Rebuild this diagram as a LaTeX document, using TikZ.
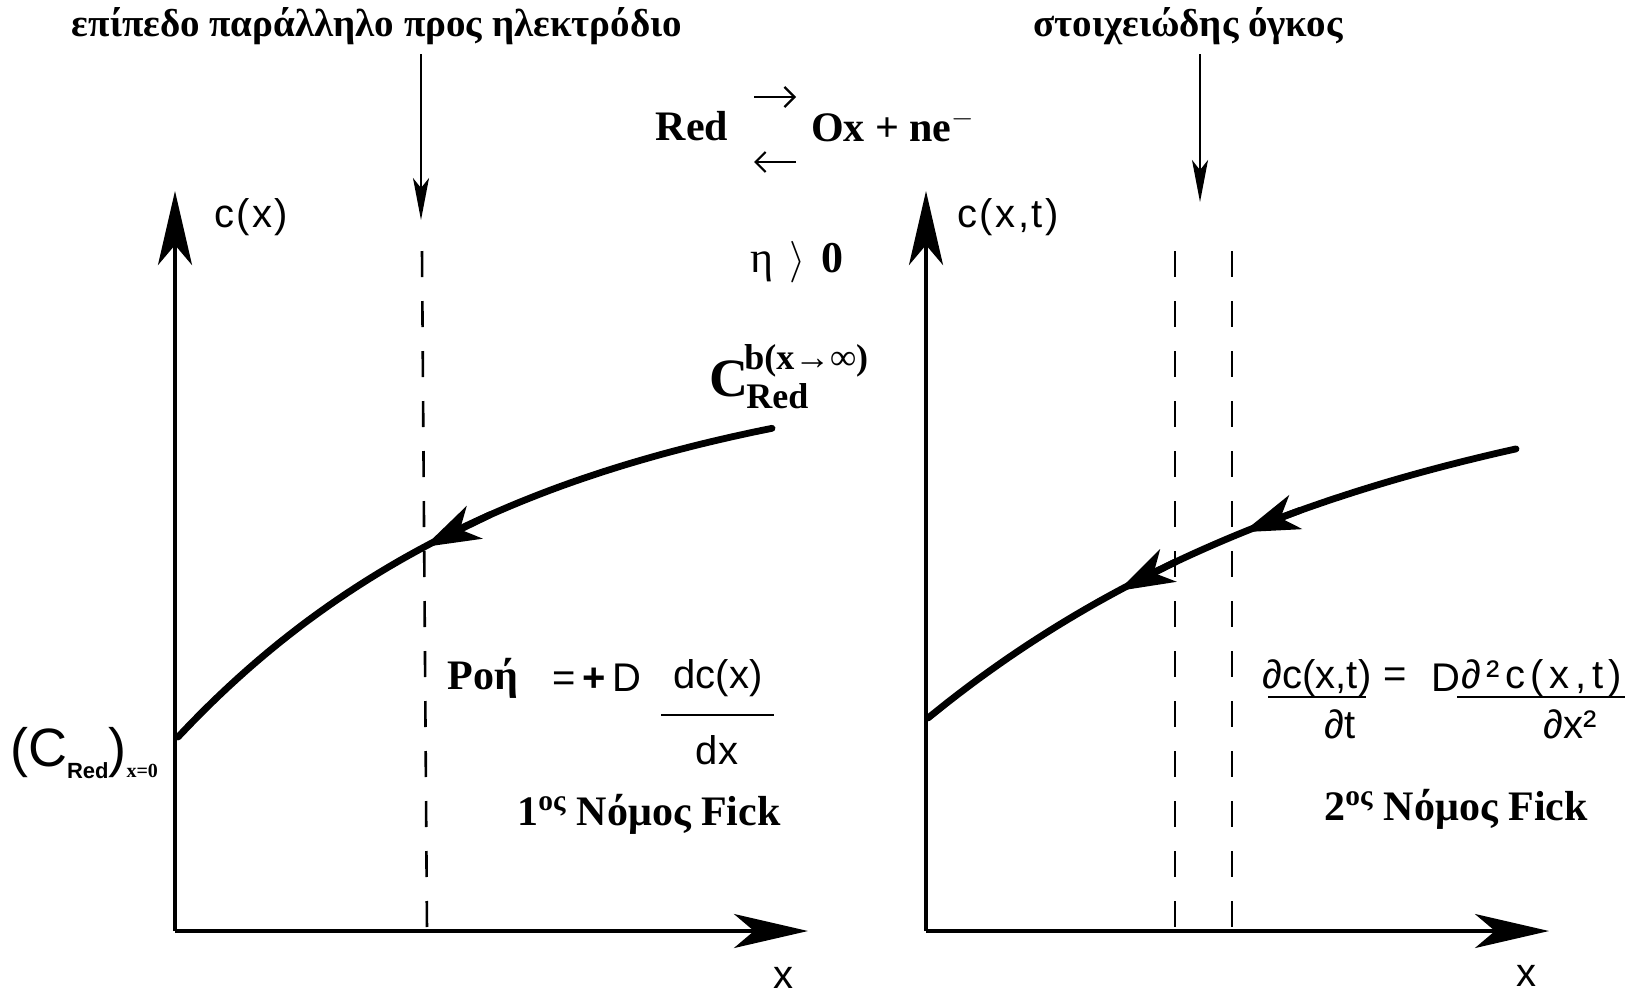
\documentclass[tikz,border=0pt]{standalone}
\usepackage{fontspec}
\setmainfont{Liberation Serif}
\setsansfont{Liberation Sans}
\usetikzlibrary{arrows.meta}
\begin{document}
\begin{tikzpicture}[x=0.5pt,y=-0.5pt,
  axis/.style={line width=2pt,-{Stealth[length=37pt,width=17pt,inset=10pt]}},
  curve/.style={line width=3.4pt,line cap=round,line join=round},
  curvearrow/.style={curve,-{Stealth[length=28pt,width=18pt,inset=8pt]}},
  guide/.style={line width=1pt,-{Stealth[length=21pt,width=8pt,inset=5pt]}},
  eqarrow/.style={line width=1.1pt,-{Straight Barb[length=5pt,width=10pt]}},
  dashline/.style={line width=1.3pt,dash pattern=on 13pt off 12pt},
  greek/.style={font=\bfseries\fontsize{19.5}{19.5}\selectfont,inner sep=0pt},
  lab/.style={font=\sffamily\fontsize{20}{20}\selectfont,inner sep=0pt},
  bold/.style={font=\bfseries\fontsize{21}{21}\selectfont,inner sep=0pt},
]
\useasboundingbox (0,0) rectangle (1641,997);

% ---------- left panel ----------
\coordinate (O1) at (175,931);
\coordinate (Y1) at (175,191);
\coordinate (X1) at (808,931);
\draw[axis] (O1) -- (Y1);
\draw[axis] (O1) -- (X1);

\node[greek] (t1) at (377,26) {επίπεδο παράλληλο προς ηλεκτρόδιο};
\coordinate (g1a) at (421,54);
\coordinate (g1b) at (421,220);
\draw[guide] (g1a) -- (g1b);
\coordinate (d1a) at (422,251);
\coordinate (d1b) at (427,931);
\draw[dashline] (d1a) -- (d1b);

\node[lab] (cx) at (251,217) {\addfontfeatures{LetterSpace=6}c(x)};
\node[lab] (xl1) at (783,978) {x};

\draw[curve] plot[domain=178:772,samples=60] (\x,{737-380*(1-exp(-(\x-178)/355))});
\coordinate (a1s) at (490,514.8);
\coordinate (a1t) at (424,547);
\draw[curvearrow] (a1s) -- (a1t);

\node[inner sep=0pt] (c0) at (84,753) {{\sffamily\fontsize{27}{27}\selectfont (C\raisebox{-0.45ex}{\fontsize{11}{11}\selectfont\bfseries Red})}\raisebox{-1.3ex}{\bfseries\fontsize{10}{10}\selectfont x=0}};

\node[font=\bfseries\fontsize{27}{27}\selectfont,inner sep=0pt] (cb) at (729,379) {C};
\node[font=\bfseries\fontsize{18}{18}\selectfont,inner sep=0pt,anchor=west] (cbs) at (744,361) {b(x→∞)};
\node[font=\bfseries\fontsize{18}{18}\selectfont,inner sep=0pt,anchor=west] (cbr) at (746,396) {Red};

\node[bold] (roi) at (483,678) {Ροή};
\node[lab,anchor=west] (eqd) at (552,678) {=\,\textbf{+}\,D};
\node[lab] (dcx) at (718,678) {dc(x)};
\coordinate (fb1) at (661,715);
\coordinate (fb2) at (774,715);
\draw[line width=1pt] (fb1) -- (fb2);
\node[lab] (dx) at (717,750) {dx};
\node[bold] (law1) at (649,814) {1\textsuperscript{ος} Νόμος Fick};

% ---------- centre ----------
\node[bold] (red) at (692,126) {Red};
\coordinate (ra1) at (754,97);
\coordinate (ra2) at (796,97);
\coordinate (la1) at (796,162);
\coordinate (la2) at (754,162);
\draw[eqarrow] (ra1) -- (ra2);
\draw[eqarrow] (la1) -- (la2);
\node[bold] (ox) at (893,126) {Ox + ne$^{-}$};
\node[font=\fontsize{22}{22}\selectfont,inner sep=0pt] (eta) at (797,262) {η\hspace{8pt}$\big\rangle$\hspace{8pt}\textbf{0}};

% ---------- right panel ----------
\coordinate (O2) at (926,931);
\coordinate (Y2) at (926,191);
\coordinate (X2) at (1549,931);
\draw[axis] (O2) -- (Y2);
\draw[axis] (O2) -- (X2);

\node[greek] (t2) at (1188,26) {στοιχειώδης όγκος};
\coordinate (g2a) at (1200,54);
\coordinate (g2b) at (1200,202);
\draw[guide] (g2a) -- (g2b);
\coordinate (d2a) at (1175,251);
\coordinate (d2b) at (1175,931);
\coordinate (d3a) at (1232,251);
\coordinate (d3b) at (1232,931);
\draw[dashline] (d2a) -- (d2b);
\draw[dashline] (d3a) -- (d3b);

\node[lab] (cxt) at (1008,217) {\addfontfeatures{LetterSpace=6}c(x,t)};
\node[lab] (xl2) at (1526,976) {x};

\draw[curve] plot[domain=928:1516,samples=60] (\x,{718-369*(1-exp(-(\x-928)/450))});
\coordinate (a2s) at (1300,510.4);
\coordinate (a2t) at (1243,532.2);
\coordinate (a3s) at (1175,562.1);
\coordinate (a3t) at (1118,591);
\draw[curvearrow] (a2s) -- (a2t);
\draw[curvearrow] (a3s) -- (a3t);

\node[lab] (pc) at (1317,678) {∂c(x,t)};
\coordinate (u1a) at (1268,697);
\coordinate (u1b) at (1366,697);
\draw[line width=1pt] (u1a) -- (u1b);
\node[lab] (pt) at (1340,724) {∂t};
\node[lab] (eq2) at (1395,678) {=};
\node[lab,anchor=west] (dd) at (1431,678) {D};
\node[lab,anchor=west] (pc2) at (dd.east) {\addfontfeatures{LetterSpace=14}∂²c(x,t)};
\coordinate (u2a) at (1457,697);
\coordinate (u2b) at (1625,697);
\draw[line width=1pt] (u2a) -- (u2b);
\node[lab] (px) at (1570,724) {∂x²};
\node[bold] (law2) at (1456,809) {2\textsuperscript{ος} Νόμος Fick};
\end{tikzpicture}
\end{document}
